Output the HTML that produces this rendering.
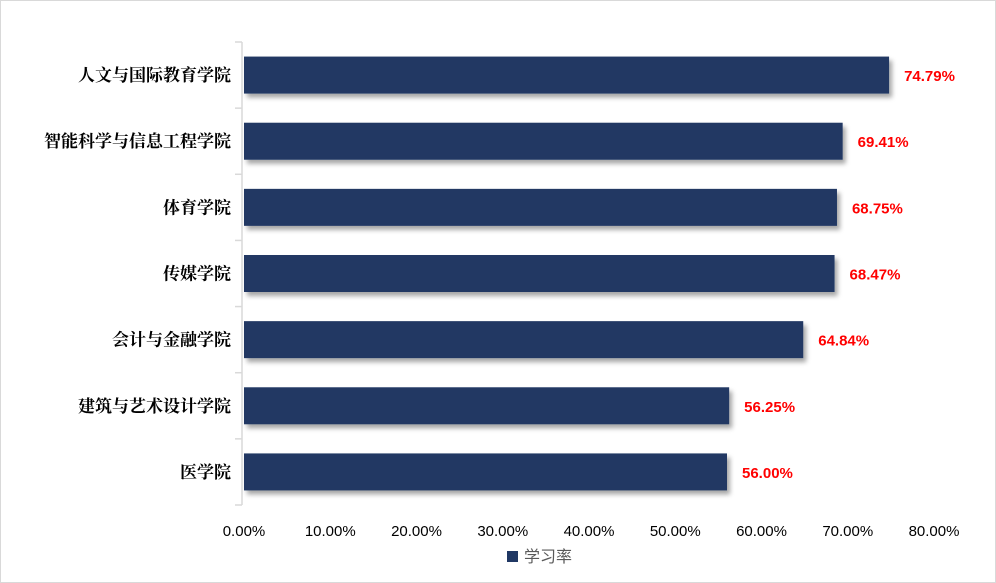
<!DOCTYPE html>
<html><head><meta charset="utf-8"><style>
body{margin:0;background:#fff}
svg{display:block}
</style></head><body>
<svg width="996" height="583" viewBox="0 0 996 583" xmlns="http://www.w3.org/2000/svg">
<defs><filter id="sh" x="-5%" y="-20%" width="110%" height="160%"><feDropShadow dx="3" dy="4" stdDeviation="2.5" flood-color="#000" flood-opacity="0.35"/></filter></defs>
<rect x="0.5" y="0.5" width="995" height="582" fill="#fff" stroke="#d9d9d9"/>
<g id="plot"></g>
<g>
<rect x="507" y="551" width="11" height="11" fill="#203864"/>
<text x="524" y="562" font-size="16" fill="#595959" font-family="'Liberation Sans','Noto Sans CJK SC',sans-serif">学习率</text>
</g>
</svg>
<script>
const categories=["人文与国际教育学院","智能科学与信息工程学院","体育学院","传媒学院","会计与金融学院","建筑与艺术设计学院","医学院"];
const values=[74.79,69.41,68.75,68.47,64.84,56.25,56.00];
const ticks=[0,10,20,30,40,50,60,70,80];
const x0=244, pxPer=8.625, topY=42, bottomY=505;
const band=(bottomY-topY)/categories.length, barH=37;
const xs=v=>x0+v*pxPer;
const NS="http://www.w3.org/2000/svg";
const g=document.getElementById('plot');
function mk(t,a,txt){const e=document.createElementNS(NS,t);for(const k in a)e.setAttribute(k,a[k]);if(txt!=null)e.textContent=txt;g.appendChild(e);return e;}
const ax=mk('line',{x1:242,y1:topY,x2:242,y2:bottomY,stroke:'#d9d9d9','stroke-width':1.5});


for(let i=0;i<=categories.length;i++){const y=topY+i*band;const t=mk('line',{x1:235,y1:y,x2:242,y2:y,stroke:'#d9d9d9','stroke-width':1.5});

}
categories.forEach((c,i)=>{
const cy=topY+band*(i+0.5);
const b=mk('rect',{x:x0,y:cy-barH/2,width:xs(values[i])-x0,height:barH,fill:'#203864',filter:'url(#sh)'});


const l=mk('text',{x:231,y:cy+6,'text-anchor':'end','font-size':17,'font-weight':'bold',fill:'#000','font-family':"'Liberation Serif','Noto Serif CJK SC',serif"},c);


const v=mk('text',{x:xs(values[i])+15,y:cy+6,'font-size':15,'font-weight':'bold',fill:'#ff0000','font-family':"'Liberation Sans',sans-serif"},values[i].toFixed(2)+'%');


});
ticks.forEach(t=>{const e=mk('text',{x:xs(t),y:536,'text-anchor':'middle','font-size':15,fill:'#000','font-family':"'Liberation Sans',sans-serif"},t.toFixed(2)+'%');

});
</script>
</body></html>
